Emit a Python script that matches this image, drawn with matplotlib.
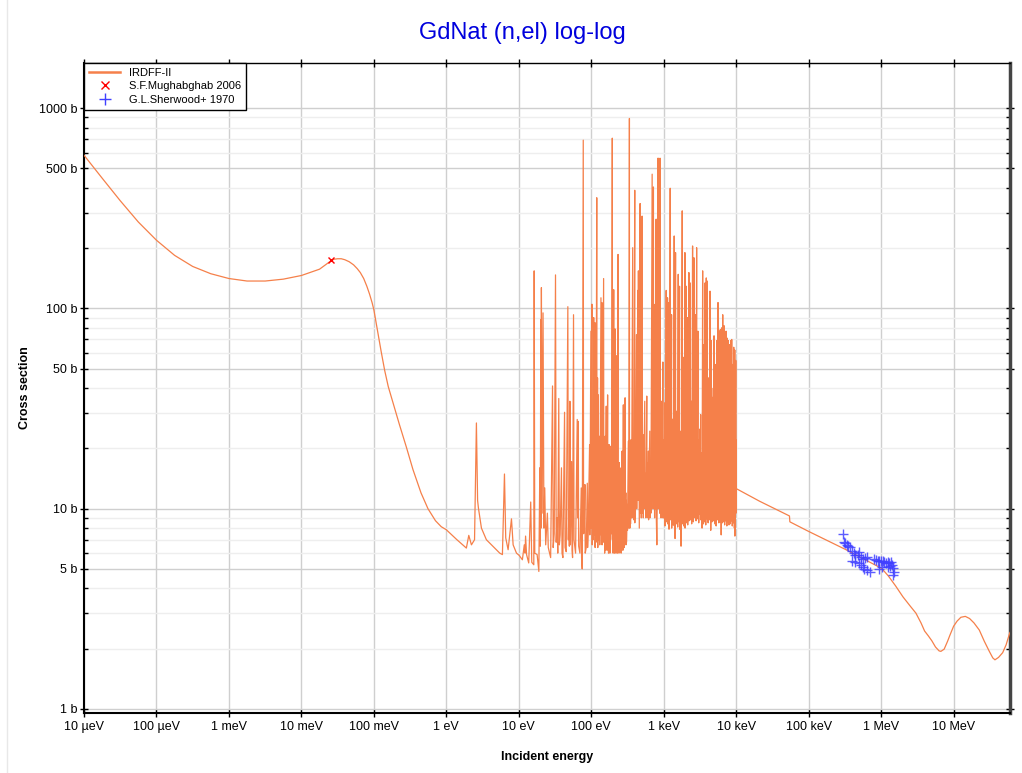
import matplotlib
matplotlib.use("Agg")
import matplotlib.pyplot as plt
from matplotlib.lines import Line2D
from matplotlib.ticker import FixedLocator, FixedFormatter, NullLocator, NullFormatter

plt.rcParams['font.family'] = ['Liberation Sans', 'DejaVu Sans']

# IRDFF-II, smooth part below the resonances (energy in eV, cross section in b)
low_e = [1e-5, 1.78e-5, 3.16e-5, 5.62e-5, 1e-4, 1.78e-4, 3.16e-4, 5.62e-4, 1e-3, 1.78e-3,
         3.16e-3, 5.62e-3, 1e-2, 1.78e-2, 2.51e-2, 2.82e-2, 3.16e-2, 3.55e-2, 3.98e-2, 4.57e-2,
         5.25e-2, 5.89e-2, 6.5e-2, 7.24e-2, 8.0e-2, 8.71e-2, 9.44e-2, 0.1, 0.112, 0.126,
         0.141, 0.158, 0.178, 0.2, 0.226, 0.282, 0.346, 0.447, 0.558, 0.708,
         0.851, 1.0, 1.4, 1.89, 2.04, 2.22, 2.45, 2.6, 2.7, 2.77,
         3.05, 3.57, 5.46, 5.94, 6.34, 6.6, 7.12, 7.92, 8.35, 9.29]
low_xs = [582, 447, 345, 270, 219, 184, 162, 149, 141, 137,
          137, 140, 146, 157, 172, 176, 177, 177, 175, 171,
          165, 158, 151, 141, 129, 118, 107, 98.4, 77.6, 61.0,
          49.0, 40.7, 35.1, 30.4, 26.2, 20.2, 15.7, 12.0, 10.0, 8.71,
          8.13, 7.85, 7.0, 6.36, 7.36, 6.6, 7.0, 26.8, 11.0, 10.1,
          8.0, 7.0, 6.0, 5.9, 14.9, 7.15, 6.24, 8.9, 6.6, 6.0]

# IRDFF-II, resolved resonance region (peaks and dips)
res_e = [10.1, 11.2, 11.9, 12.2, 12.4, 12.8, 13.7, 14.6, 15.1, 16.1,
         16.3, 16.6, 17.9, 18.9, 19.5, 19.8, 20.1, 20.3, 20.5, 21.0,
         21.6, 22.2, 22.8, 23.5, 24.8, 25.5, 27.5, 29.2, 29.8, 30.8,
         32.1, 32.8, 33.8, 34.5, 35.6, 36.3, 37.2, 38.8, 39.5, 40.6,
         42.8, 43.5, 45.1, 47.5, 48.2, 49.1, 49.8, 50.7, 51.5, 53.5,
         54.3, 55.2, 56.9, 57.8, 60.7, 64.0, 64.8, 66.1, 67.0, 69.7,
         72.7, 73.5, 75.0, 77.5, 78.3, 80.0, 81.7, 82.5, 85.3, 88.1,
         89.0, 90.9, 94.8, 95.5, 98.9, 99.5,
         102, 103, 105, 106, 108, 109, 112, 113, 115, 116,
         119, 120, 122, 123, 125, 126, 130, 131, 136, 137,
         140, 141, 142, 143, 148, 149, 152, 153, 155, 156,
         161, 162, 164, 165, 168, 169, 172, 173, 176, 177,
         180, 181, 183, 184, 189, 191, 195, 196, 199, 200,
         204, 205, 208, 209, 213, 214, 218, 219, 222, 223,
         228, 229, 234, 235, 240, 241, 244, 245, 249, 250,
         257, 258, 266, 267, 272, 273, 277, 278, 285, 286,
         293, 294, 300, 301, 305, 306, 315, 316, 325, 330,
         336, 337, 340, 341, 347, 348, 358, 359, 373, 374,
         385, 386, 398, 399, 405, 406, 420, 424, 438, 441,
         447, 460, 472, 476, 487, 490, 503, 506, 519, 522,
         547, 550, 565, 567, 583, 586, 602, 604, 615, 618,
         642, 645, 663, 665, 692, 695, 721, 724, 745, 748,
         761, 764, 785, 790, 803, 815, 829, 835, 855, 862,
         874, 878, 893, 900, 912, 915, 931, 935, 950, 955,
         972, 977, 990, 995,
         1003, 1008, 1035, 1040, 1060, 1065, 1081, 1086, 1104, 1109,
         1128, 1133, 1152, 1157, 1178, 1183, 1202, 1207, 1228, 1234,
         1254, 1260, 1282, 1288, 1309, 1315, 1337, 1343, 1366, 1372,
         1394, 1400, 1426, 1432, 1455, 1461, 1486, 1492, 1517, 1523,
         1552, 1558, 1585, 1592, 1618, 1625, 1652, 1659, 1690, 1697,
         1726, 1733, 1762, 1769, 1799, 1806, 1837, 1845, 1879, 1887,
         1919, 1927, 1959, 1967, 2000, 2008, 2046, 2055, 2089, 2098,
         2133, 2142, 2178, 2187, 2223, 2232, 2275, 2284, 2323, 2333,
         2371, 2381, 2421, 2431, 2500, 2510, 2553, 2563, 2612, 2623,
         2667, 2678, 2723, 2734, 2780, 2791, 2844, 2856, 2904, 2916,
         2965, 2977, 3027, 3039, 3097, 3110, 3162, 3175, 3228, 3241,
         3296, 3310, 3365, 3379, 3443, 3457, 3516, 3530, 3589, 3604,
         3650, 3665, 3707, 3722, 3784, 3799, 3864, 3880, 3925, 3940,
         3990, 4006, 4083, 4099, 4169, 4186, 4256, 4273, 4345, 4362,
         4436, 4454, 4539, 4557, 4634, 4652, 4732, 4751, 4831, 4850,
         4943, 4963, 5047, 5067, 5152, 5172, 5260, 5281, 5383, 5404,
         5495, 5517, 5610, 5632, 5728, 5751, 5848, 5871, 5940, 5963,
         6039, 6063, 6180, 6205, 6310, 6335, 6420, 6445, 6516, 6542,
         6653, 6680, 6792, 6819, 6900, 6925, 7015, 7043, 7130, 7160,
         7244, 7273, 7396, 7425, 7551, 7581, 7680, 7710, 7798, 7829,
         7920, 7950, 8054, 8086, 8222, 8255, 8395, 8428, 8530, 8565,
         8670, 8705, 8800, 8830, 8954, 8990, 9100, 9135, 9247, 9284,
         9400, 9430, 9550, 9588, 9700, 9740, 9863, 9930, 9980]
res_xs = [5.85, 5.56, 6.6, 6.0, 7.3, 5.9, 5.36, 10.8, 5.4, 5.25,
          154, 6.0, 5.9, 4.86, 16, 6.5, 88, 8.0, 127, 9.5,
          95, 8.0, 12.7, 6.6, 9.5, 6.4, 5.7, 41, 6.4, 7.5,
          147, 6.8, 9.0, 6.0, 35.5, 6.6, 7.4, 16, 6.0, 5.7,
          30.3, 6.4, 6.1, 102, 7.0, 10, 6.5, 34.4, 6.6, 17.2,
          6.2, 5.7, 93, 7.0, 6.0, 27.9, 9.0, 27.3, 6.5, 6.0,
          12.7, 5.7, 5.0, 692, 7.5, 8.0, 13.2, 6.0, 6.4, 13.4,
          6.4, 8.0, 20.9, 7.4, 77, 8.0,
          105, 6.6, 20, 7.0, 90, 7.4, 85, 6.4, 12, 6.8,
          357, 7.0, 45, 6.4, 37, 7.0, 23, 6.6, 113, 7.4,
          107, 6.6, 20, 7.0, 141, 6.8, 16, 6.0, 23, 6.2,
          32.5, 7.0, 12, 6.2, 37, 6.4, 10, 6.0, 20.9, 6.6,
          12, 6.0, 20.5, 7.0, 14, 7.5, 708, 7.0, 20, 6.0,
          124, 6.8, 22, 6.0, 79, 7.4, 18, 6.0, 58, 7.2,
          15, 6.0, 186, 7.4, 11, 6.0, 17, 6.4, 16, 7.0,
          13, 6.0, 19.4, 6.6, 15, 6.2, 33, 7.6, 13, 6.4,
          35.8, 7.4, 12, 6.6, 11, 6.8, 10.5, 7.8, 21.7, 8.0,
          888, 8.6, 14, 8.0, 22, 8.4, 22.1, 9.0, 201, 9.0,
          14, 8.8, 389, 8.5, 13, 9.0, 74, 10, 123, 11,
          154, 8.0, 334, 9.5, 14, 9.0, 289, 9.5, 23.4, 9.0,
          34.4, 10, 15, 9.0, 36.5, 9.5, 17, 9.0, 19.4, 8.8,
          24.4, 9.0, 17, 9.5, 468, 10, 404, 10, 25, 9.0,
          105, 10, 279, 9.0, 6.6, 12, 562, 10, 562, 10,
          22, 9.5, 562, 10, 20, 9.0, 34.4, 9.5, 18, 9.0,
          54, 9.5, 16, 9.0,
          22, 9.0, 33.8, 8.2, 17, 9.5, 123, 8.6, 24, 9.8,
          113, 8.4, 19, 9.2, 107, 7.9, 25, 9.6, 398, 8.8,
          21, 9.4, 93, 8.0, 28, 9.0, 19.4, 8.3, 17, 9.7,
          230, 8.2, 23, 7.1, 190, 9.1, 18, 8.4, 30.7, 9.6,
          20, 8.1, 148, 9.3, 24, 8.6, 129, 7.9, 19, 9.5,
          24.4, 6.5, 21, 9.0, 307, 8.4, 17, 9.6, 57, 8.2,
          22, 9.4, 190, 8.0, 18, 9.1, 129, 8.5, 26, 9.8,
          90, 8.3, 20, 9.5, 151, 8.7, 23, 10.0, 134, 8.8,
          19, 9.6, 34.4, 8.4, 205, 9.9, 21, 8.6, 179, 10.0,
          24, 9.0, 93, 10.2, 27, 8.7, 201, 9.7, 20, 8.9,
          77, 10.0, 22, 8.5, 17.9, 9.4, 25, 10.3, 29.5, 8.8,
          19, 9.5, 10.5, 8.0, 154, 9.2, 26, 8.4, 66, 10.0,
          22, 8.6, 134, 9.8, 31, 8.3, 142, 9.5, 24, 8.9,
          137, 10.1, 27, 8.5, 45, 9.6, 21, 8.8, 122, 10.2,
          38, 7.8, 69, 9.4, 36, 8.6, 35.8, 10.0, 40, 8.7,
          73, 9.9, 34, 8.4, 52.5, 9.6, 42, 8.2, 69, 10.1,
          38, 8.8, 107, 9.7, 45, 8.5, 77, 10.2, 40, 8.6,
          78.5, 9.9, 42, 7.4, 80, 9.3, 47, 8.5, 93, 10.0,
          44, 8.6, 82, 9.6, 45, 8.3, 69, 10.1, 50, 8.7,
          77, 9.5, 48, 8.2, 71, 10.0, 50, 8.6, 69, 9.4,
          52, 8.3, 66, 9.8, 46, 8.4, 69, 10.2, 50, 8.7,
          70, 9.6, 50, 8.2, 52.5, 9.9, 48, 8.5, 64, 9.4,
          50, 8.0, 62, 7.3, 45, 8.6, 55, 9.5, 22]

# IRDFF-II, smooth part above 10 keV
high_e = [1.0e4, 2.1e4, 5.43e4, 5.5e4, 1e5, 3.28e5, 1e6, 1.12e6, 1.26e6, 1.58e6,
          2.0e6, 2.51e6, 3.02e6, 3.55e6, 3.98e6, 4.47e6, 5.01e6, 5.62e6, 6.31e6, 6.68e6,
          7.41e6, 8.26e6, 8.91e6, 1.0e7, 1.12e7, 1.26e7, 1.45e7, 1.66e7, 1.91e7, 2.26e7,
          2.65e7, 3.11e7, 3.47e7, 3.72e7, 4.17e7, 4.75e7, 5.3e7, 5.89e7, 6.0e7]
high_xs = [12.6, 10.9, 9.2, 8.6, 7.7, 6.24, 5.05, 4.84, 4.61, 4.12,
           3.63, 3.27, 3.01, 2.69, 2.45, 2.32, 2.19, 2.04, 1.95, 1.94,
           1.99, 2.18, 2.34, 2.59, 2.75, 2.87, 2.9, 2.83, 2.69, 2.48,
           2.18, 1.94, 1.8, 1.76, 1.81, 1.91, 2.09, 2.37, 2.41]

# experimental points
mugh_e = [0.0253]
mugh_xs = [174]

sher_e = [3.01e5, 3.11e5, 3.21e5, 3.35e5, 3.53e5, 3.72e5, 3.97e5, 4.18e5, 4.41e5, 4.75e5,
          5.01e5, 5.28e5, 5.69e5, 6.0e5, 6.38e5, 3.97e5, 4.41e5, 4.9e5, 5.28e5, 5.57e5,
          5.87e5, 6.32e5, 7.03e5, 8.06e5, 8.5e5, 8.96e5, 9.44e5, 9.95e5, 1.05e6, 1.11e6,
          1.17e6, 1.23e6, 1.3e6, 1.37e6, 1.41e6, 1.47e6, 1.52e6, 1.44e6, 9.44e5, 1.03e6,
          1.23e6, 1.34e6]
sher_xs = [7.47, 6.81, 6.73, 6.61, 6.49, 6.41, 6.12, 6.0, 5.84, 5.89,
           6.07, 5.71, 5.62, 5.67, 5.71, 5.5, 5.41, 5.34, 5.21, 5.09,
           5.01, 4.94, 4.82, 5.62, 5.56, 5.5, 5.46, 5.5, 5.46, 5.41,
           5.34, 5.41, 5.33, 5.39, 5.25, 5.05, 4.82, 4.64, 5.01, 5.09,
           5.09, 5.15]

x_ticks = [1e-5, 1e-4, 1e-3, 1e-2, 1e-1, 1, 10, 100, 1e3, 1e4, 1e5, 1e6, 1e7]
x_labels = ['10 µeV', '100 µeV', '1 meV', '10 meV', '100 meV', '1 eV', '10 eV',
            '100 eV', '1 keV', '10 keV', '100 keV', '1 MeV', '10 MeV']
y_ticks = [1, 5, 10, 50, 100, 500, 1000]
y_labels = ['1 b', '5 b', '10 b', '50 b', '100 b', '500 b', '1000 b']
y_minor = [2, 3, 4, 6, 7, 8, 9, 20, 30, 40, 60, 70, 80, 90, 200, 300, 400, 600, 700, 800, 900]

orange = '#f5804a'

fig = plt.figure(figsize=(10.22, 7.73), dpi=100)
ax = fig.add_axes([84 / 1022, 1 - 713 / 773, 926 / 1022, 650 / 773])

energy = low_e + res_e + high_e
xs = low_xs + res_xs + high_xs
ax.plot(energy, xs, color=orange, lw=0.9, zorder=3)
ax.plot(mugh_e, mugh_xs, 'x', color='red', ms=5, mew=1, zorder=4)
ax.plot(sher_e, sher_xs, '+', color='#4040ff', ms=7, mew=1, alpha=0.85, zorder=4)

ax.set_xscale('log')
ax.set_yscale('log')
ax.set_xlim(1e-5, 6e7)
ax.set_ylim(0.955, 1680)

ax.xaxis.set_major_locator(FixedLocator(x_ticks))
ax.xaxis.set_major_formatter(FixedFormatter(x_labels))
ax.xaxis.set_minor_locator(NullLocator())
ax.yaxis.set_major_locator(FixedLocator(y_ticks))
ax.yaxis.set_major_formatter(FixedFormatter(y_labels))
ax.yaxis.set_minor_locator(FixedLocator(y_minor))
ax.yaxis.set_minor_formatter(NullFormatter())

ax.grid(which='major', axis='x', color='#cfcfcf', lw=1, zorder=0)
ax.grid(which='major', axis='y', color='#cfcfcf', lw=1, zorder=0)
ax.grid(which='minor', axis='y', color='#eeeeee', lw=1, zorder=0)
ax.set_axisbelow(True)

ax.tick_params(axis='x', which='major', direction='inout', length=6, width=1,
               top=True, labelsize=9, pad=3)
ax.tick_params(axis='y', which='major', direction='inout', length=6, width=1,
               right=True, labelsize=9, pad=2)
ax.tick_params(axis='y', which='minor', direction='in', length=3, width=1, right=True)

for side in ['left', 'bottom']:
    ax.spines[side].set_linewidth(1.5)
    ax.spines[side].set_color('black')
ax.spines['top'].set_linewidth(1)
ax.spines['right'].set_linewidth(2.5)
ax.spines['right'].set_color('#444444')

ax.set_xlabel('Incident energy', fontsize=9, fontweight='bold')
ax.set_ylabel('Cross section', fontsize=9, fontweight='bold')
ax.xaxis.set_label_coords(0.5, -0.058)
ax.yaxis.set_label_coords(-0.057, 0.5)

fig.text(522 / 1022, 1 - 33 / 773, 'GdNat (n,el) log-log', color='#0000dd',
         fontsize=17, ha='center', va='center')

handles = [Line2D([], [], color=orange, lw=1.8),
           Line2D([], [], ls='none', marker='x', color='red', ms=6, mew=1),
           Line2D([], [], ls='none', marker='+', color='#4040ff', ms=8, mew=1)]
labels = ['IRDFF-II', 'S.F.Mughabghab 2006', 'G.L.Sherwood+ 1970']
leg = ax.legend(handles, labels, loc='upper left', bbox_to_anchor=(0, 1), borderaxespad=0,
                fontsize=8, fancybox=False, edgecolor='black', framealpha=1,
                handlelength=2.8, labelspacing=0.3, borderpad=0.45)
leg.get_frame().set_linewidth(1)

fig.add_artist(Line2D([7 / 1022, 7 / 1022], [0, 1], color='#e8e8e8', lw=1))

fig.savefig('out.png', dpi=100)
